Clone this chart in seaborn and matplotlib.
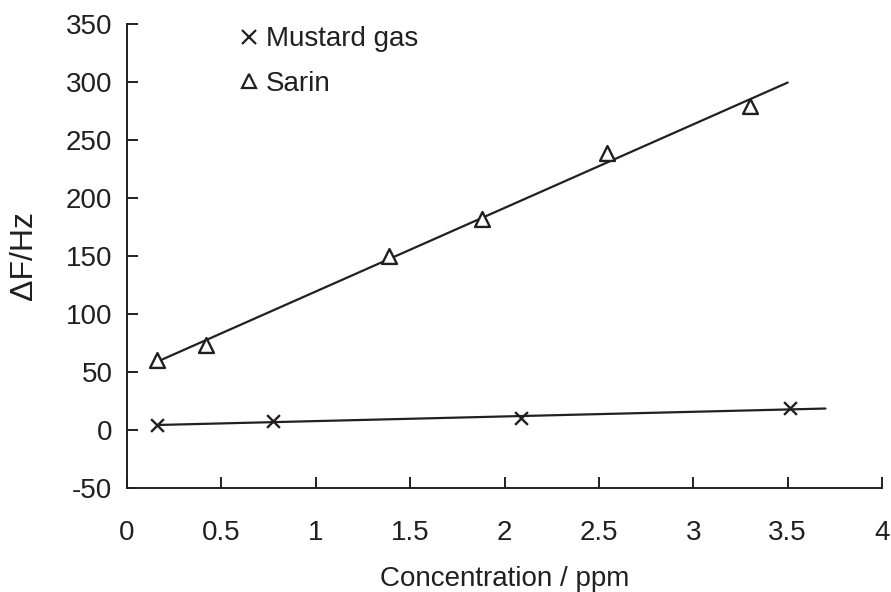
import numpy as np
import pandas as pd
import seaborn as sns
import matplotlib.pyplot as plt
from matplotlib.lines import Line2D

# data
sarin_x = [0.16, 0.42, 1.39, 1.88, 2.545, 3.30]
sarin_y = [60, 73, 150, 182, 238.5, 279]
mustard_x = [0.157, 0.776, 2.086, 3.51]
mustard_y = [4.3, 7.8, 10, 18.7]

# x extent of the trend lines
sarin_fit_range = [0.17, 3.5]
mustard_fit_range = [0.16, 3.7]

x_ticks = [0, 0.5, 1, 1.5, 2, 2.5, 3, 3.5, 4]
y_ticks = [-50, 0, 50, 100, 150, 200, 250, 300, 350]

ink = "#231f20"

sns.set_style("ticks")
plt.rcParams['font.family'] = ['Liberation Sans', 'DejaVu Sans']

fig = plt.figure(figsize=(8.91, 5.92), dpi=100)
ax = fig.add_axes([0.1425, 0.1757, 0.8475, 0.7838])

# linear trend lines
def fit_line(xs, ys, rng):
    k, b = np.polyfit(xs, ys, 1)
    xx = np.linspace(rng[0], rng[1], 50)
    return pd.DataFrame({"x": xx, "y": k * xx + b})

sarin_fit = fit_line(sarin_x, sarin_y, sarin_fit_range)
mustard_fit = fit_line(mustard_x, mustard_y, mustard_fit_range)
sns.lineplot(data=sarin_fit, x="x", y="y", ax=ax, color=ink, lw=1.6)
sns.lineplot(data=mustard_fit, x="x", y="y", ax=ax, color=ink, lw=1.6)

# points
df_s = pd.DataFrame({"x": sarin_x, "y": sarin_y})
df_m = pd.DataFrame({"x": mustard_x, "y": mustard_y})
sns.scatterplot(data=df_s, x="x", y="y", ax=ax, marker="^", s=115,
                facecolor="white", edgecolor=ink, linewidth=1.7, zorder=3)
sns.scatterplot(data=df_m, x="x", y="y", ax=ax, marker="x", s=85,
                color=ink, linewidth=1.7, zorder=3)

ax.set_xlim(0, 4)
ax.set_ylim(-50, 350)
ax.set_xticks(x_ticks)
ax.set_xticklabels([f"{t:g}" for t in x_ticks])
ax.set_yticks(y_ticks)
ax.set_yticklabels([str(t) for t in y_ticks])
ax.tick_params(direction="in", length=8, width=1.4, colors=ink,
               labelsize=20)
ax.tick_params(axis="x", pad=23)
ax.tick_params(axis="y", pad=10.5)

for side in ["top", "right"]:
    ax.spines[side].set_visible(False)
for side in ["left", "bottom"]:
    ax.spines[side].set_linewidth(1.4)
    ax.spines[side].set_color(ink)

ax.set_xlabel("Concentration / ppm", fontsize=20, color=ink, labelpad=14.5)
ax.set_ylabel("ΔF/Hz", fontsize=23, color=ink, labelpad=19)

handles = [
    Line2D([], [], ls="none", marker="x", ms=10.5, mew=1.6, color=ink),
    Line2D([], [], ls="none", marker="^", ms=10.5, mew=1.6, mfc="white", mec=ink),
]
ax.legend(handles, ["Mustard gas", "Sarin"], loc="upper left",
          bbox_to_anchor=(0.143, 0.995), frameon=False, fontsize=20,
          handlelength=1.0, handletextpad=0.1, borderpad=0,
          borderaxespad=0, labelspacing=0.67, labelcolor=ink)

fig.savefig("out.png", dpi=100)
